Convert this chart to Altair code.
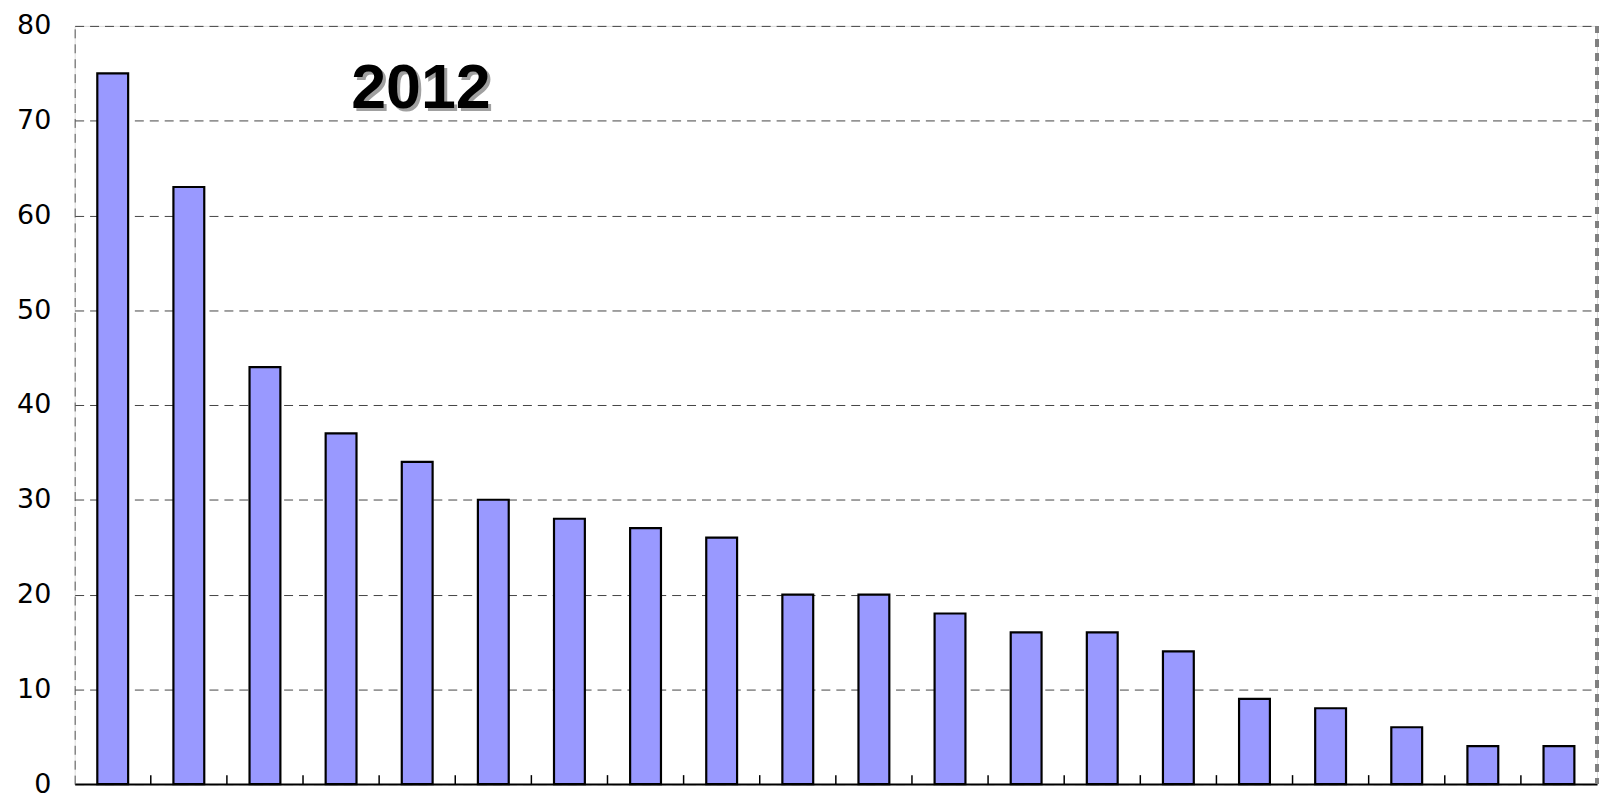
import altair as alt
import pandas as pd

categories = [str(i) for i in range(1, 21)]
values = [75, 63, 44, 37, 34, 30, 28, 27, 26, 20, 20, 18, 16, 16, 14, 9, 8, 6, 4, 4]
y_ticks = [0, 10, 20, 30, 40, 50, 60, 70, 80]
title_text = "2012"

W, H = 1530, 762

df = pd.DataFrame({"cat": categories, "value": values})
ticks_df = pd.DataFrame({"cat": categories[1:]})

xscale = alt.Scale(domain=categories, paddingInner=0, paddingOuter=0)

bars = alt.Chart(df).mark_bar(
    width=31, color="#9999FF", stroke="black", strokeWidth=2.2
).encode(
    x=alt.X("cat:N", scale=xscale, sort=None,
            axis=alt.Axis(title=None, labels=False, ticks=False,
                          domainColor="black", domainWidth=2, grid=False)),
    y=alt.Y("value:Q",
            scale=alt.Scale(domain=[0, 80], nice=False),
            axis=alt.Axis(title=None, values=y_ticks, ticks=False,
                          labelFont="DejaVu Sans", labelFontSize=27,
                          labelColor="black", labelPadding=24,
                          domainColor="#555555", domainDash=[9, 6], domainWidth=1,
                          grid=True, gridColor="#444444", gridDash=[9, 6],
                          gridWidth=1)),
)

xticks = alt.Chart(ticks_df).mark_rule(color="black", strokeWidth=1.5).encode(
    x=alt.X("cat:N", scale=xscale, sort=None, bandPosition=0),
    y=alt.value(H - 9),
    y2=alt.value(H),
)

right_border = alt.Chart(df).mark_rule(
    color="#808080", strokeWidth=3, strokeDash=[7, 7]
).encode(x=alt.value(W), y=alt.value(0), y2=alt.value(H))

title_df = pd.DataFrame({"t": [title_text]})
shadow = alt.Chart(title_df).mark_text(
    font="Liberation Sans", fontSize=63, fontWeight="bold",
    color="#A0A0A0", align="center", baseline="alphabetic"
).encode(text="t:N", x=alt.value(348 + 3), y=alt.value(83 + 3))
title = alt.Chart(title_df).mark_text(
    font="Liberation Sans", fontSize=63, fontWeight="bold",
    color="black", align="center", baseline="alphabetic"
).encode(text="t:N", x=alt.value(348), y=alt.value(83))

chart = alt.layer(bars, xticks, right_border, shadow, title).properties(
    width=W, height=H,
    autosize=alt.AutoSizeParams(type="none"),
    padding={"left": 67, "top": 16, "right": 3, "bottom": 16},
).configure_view(stroke=None).configure(background="white")

chart.save("out.html", embed_options={"renderer": "svg", "actions": False})
